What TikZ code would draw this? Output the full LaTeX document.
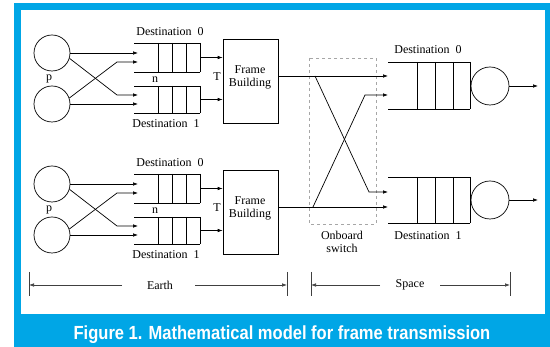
\documentclass[tikz,border=0pt]{standalone}
\usepackage{fontspec}
\setmainfont{Liberation Serif}
\newfontfamily\capfont{Liberation Sans}
\usetikzlibrary{arrows.meta}
\definecolor{frameblue}{RGB}{0,166,230}
\tikzset{
  arr/.style={-{Latex[length=5pt,width=3.6pt]}, line width=0.7pt},
  ln/.style={line width=0.7pt},
  srv/.style={circle, draw, minimum size=36pt, inner sep=0pt, line width=0.7pt},
  lbl/.style={font=\fontsize{12}{13}\selectfont, inner sep=0pt},
  fbox/.style={draw, line width=0.7pt, minimum width=55pt, minimum height=84pt, inner sep=0pt},
  dim/.style={-{Latex[length=5pt,width=3.6pt]}, line width=0.7pt, black!75},
  tick/.style={line width=0.7pt, black!75}
}
\begin{document}
\begin{tikzpicture}[x=1pt,y=-1pt]
\useasboundingbox (0,0) rectangle (550,347);
% frame
\fill[frameblue] (14,3) rectangle (550,347);
\fill[white] (21,10) rectangle (545,314);
\node[font=\capfont\bfseries\fontsize{19}{21}\selectfont, text=white] (cap) at (282,335) {\scalebox{0.87}[1]{Figure 1. Mathematical model for frame transmission}};

% two earth groups
\foreach \g/\d in {a/0, b/131}{
  \node[srv] (c1\g) at (52,53+\d) {};
  \node[srv] (c2\g) at (52,104+\d) {};
  \node[lbl] (p\g) at (49,79+\d) {p};
  \coordinate (qa\g) at (138,53+\d);
  \coordinate (qb\g) at (138,62+\d);
  \coordinate (qc\g) at (138,95+\d);
  \coordinate (qd\g) at (138,104+\d);
  \coordinate (ka\g) at (117,95+\d);
  \coordinate (kb\g) at (117,62+\d);
  \draw[arr] (c1\g.east) -- (qa\g);
  \draw[arr] (c1\g.-17) -- (ka\g) -- (qc\g);
  \draw[arr] (c2\g.19) -- (kb\g) -- (qb\g);
  \draw[arr] (c2\g.east) -- (qd\g);
  % queues
  \draw[ln] (134,43+\d) -- (200,43+\d) (134,72+\d) -- (200,72+\d);
  \foreach \x in {158,172,186,200} \draw[ln] (\x,43+\d) -- (\x,72+\d);
  \draw[ln] (134,86+\d) -- (200,86+\d) (134,113+\d) -- (200,113+\d);
  \foreach \x in {158,172,186,200} \draw[ln] (\x,86+\d) -- (\x,113+\d);
  \node[lbl] (d0\g) at (170,32+\d) {Destination~~0};
  \node[lbl] (d1\g) at (166,124+\d) {Destination~~1};
  \node[lbl] (n\g) at (155,80+\d) {n};
  \node[lbl] (t\g) at (217,77+\d) {T};
  \node[fbox] (fb\g) at (250.5,81+\d) {};
  \node[lbl, align=center] (fbl\g) at (250,77+\d) {Frame\\Building};
  \coordinate (qo1\g) at (200,57.5+\d);
  \coordinate (qo2\g) at (200,99.5+\d);
  \draw[arr] (qo1\g) -- (qo1\g -| fb\g.west);
  \draw[arr] (qo2\g) -- (qo2\g -| fb\g.west);
}

% onboard switch
\draw[gray!70, dashed, line width=0.6pt] (309,58) rectangle (376,224);
\node[lbl, align=center] (sw) at (342,242) {Onboard\\switch};
\coordinate (oa) at (388,76);
\coordinate (ob) at (388,95);
\coordinate (oc) at (388,192);
\coordinate (od) at (388,207);
\coordinate (ja) at (315,76);
\coordinate (jb) at (313,207);
\draw[arr] (fba.east |- oa) -- (oa);
\draw[arr] (fbb.east |- od) -- (od);
\draw[arr] (ja) -- (369,192) -- (oc);
\draw[arr] (jb) -- (365,95) -- (ob);

% space queues
\foreach \g/\yt/\yb in {u/62/109, l/177/223}{
  \draw[ln] (388,\yt) -- (470,\yt) (388,\yb) -- (470,\yb);
  \foreach \x in {417,435,453,470} \draw[ln] (\x,\yt) -- (\x,\yb);
}
\node[srv, minimum size=38pt] (su) at (490,86) {};
\node[srv, minimum size=38pt] (sl) at (490,200) {};
\coordinate (eu) at (538,86);
\coordinate (el) at (538,200);
\draw[arr] (su.east) -- (eu);
\draw[arr] (sl.east) -- (el);
\node[lbl] (sd0) at (428,50) {Destination~~0};
\node[lbl] (sd1) at (428,236) {Destination~~1};

% earth / space
\draw[tick] (29,272) -- (29,296);
\draw[tick] (287,272) -- (287,296);
\draw[tick] (311,272) -- (311,296);
\draw[tick] (510,272) -- (510,296);
\node[lbl] (earth) at (160,285) {Earth};
\node[lbl] (space) at (410,285) {Space};
\coordinate (e1) at (29,285);
\coordinate (e2) at (287,285);
\coordinate (s1) at (311,285);
\coordinate (s2) at (510,285);
\draw[dim] (122,285) -- (e1);
\draw[dim] (195,285) -- (e2);
\draw[dim] (380,285) -- (s1);
\draw[dim] (440,285) -- (s2);
\end{tikzpicture}
\end{document}
